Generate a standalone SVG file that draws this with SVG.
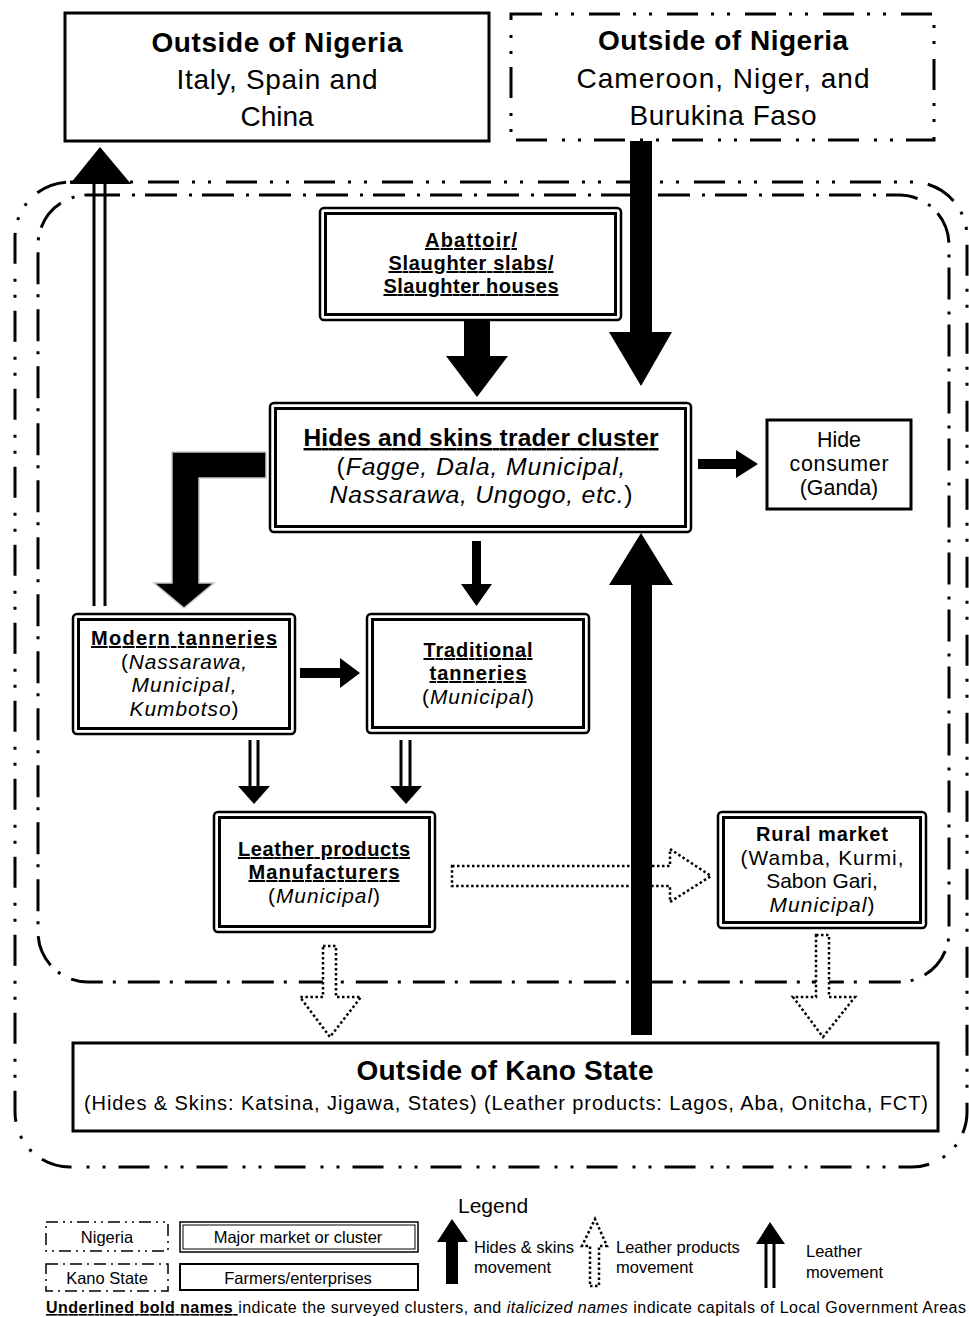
<svg xmlns="http://www.w3.org/2000/svg" width="969" height="1317" viewBox="0 0 969 1317">
<style>
 text{font-family:"Liberation Sans",Arial,sans-serif;fill:#000}
 .c{text-anchor:middle}
 .b{font-weight:700}
 .i{font-style:italic}
 .u{text-decoration:underline}
 .box{fill:#fff;stroke:#000;stroke-width:3}
 .ob{fill:#fff;stroke:#000;stroke-width:2.5}
 .ib{fill:none;stroke:#000;stroke-width:3}
 .nig{fill:none;stroke:#000;stroke-width:3;stroke-dasharray:31 13 3 13 3 15}
 .kano{fill:none;stroke:#000;stroke-width:3;stroke-dasharray:32 12 3 10}
 .solid{fill:#000}
 .dot{fill:#fff;stroke:#000;stroke-width:2.5;stroke-dasharray:2.5 2.5}
 .dl{stroke:#000;stroke-width:3;fill:none}
 .t28{font-size:28px}
 .lb{font-weight:700;font-size:20px;text-decoration:underline}
 .r21{font-size:20.9px}
 .lg{font-size:16.5px}
</style>
<rect width="969" height="1317" fill="#fff"/>
<g id="boundaries">
 <rect class="nig" x="15" y="182" width="952" height="985" rx="55"/>
 <rect class="kano" x="38" y="195" width="911" height="787" rx="50"/>
</g>
<g id="outside-nigeria-left">
 <rect class="box" x="65" y="13" width="424" height="128"/>
 <text class="c t28" x="277" y="52"><tspan class="b" textLength="251">Outside of Nigeria</tspan><tspan x="277" y="89" textLength="201">Italy, Spain and</tspan><tspan x="277" y="126">China</tspan></text>
</g>
<g id="outside-nigeria-right">
 <rect class="nig" x="511" y="14" width="423" height="126" fill="#fff"/>
 <text class="c t28" x="723" y="50"><tspan class="b" textLength="250">Outside of Nigeria</tspan><tspan x="723" y="88" textLength="293">Cameroon, Niger, and</tspan><tspan x="723" y="125" textLength="187">Burukina Faso</tspan></text>
</g>
<g id="abattoir">
 <rect class="ob" x="320" y="208" width="301" height="112" rx="4"/>
 <rect class="ib" x="325.5" y="213.5" width="290" height="101"/>
 <text class="c lb" x="471" y="247"><tspan textLength="92">Abattoir/</tspan><tspan x="471" y="270" textLength="165">Slaughter slabs/</tspan><tspan x="471" y="293" textLength="175">Slaughter houses</tspan></text>
</g>
<g id="hides-trader">
 <rect class="ob" x="270" y="403" width="421" height="129" rx="4"/>
 <rect class="ib" x="275.5" y="408.5" width="410" height="118"/>
 <text class="c" x="481" y="446"><tspan class="b u" font-size="24.5" textLength="355">Hides and skins trader cluster</tspan><tspan font-size="24.8" x="481" y="475" textLength="289">(<tspan class="i">Fagge, Dala, Municipal,</tspan></tspan><tspan font-size="24.8" x="481" y="503" textLength="303"><tspan class="i">Nassarawa, Ungogo, etc.</tspan>)</tspan></text>
</g>
<g id="hide-consumer">
 <rect class="box" x="767" y="420" width="144" height="89"/>
 <text class="c" font-size="21.4" x="839" y="447">Hide<tspan x="839" y="471" textLength="99">consumer</tspan><tspan x="839" y="495">(Ganda)</tspan></text>
</g>
<g id="modern-tanneries">
 <rect class="ob" x="73" y="614" width="222" height="120" rx="4"/>
 <rect class="ib" x="78.5" y="619.5" width="211" height="109"/>
 <text class="c" x="184" y="645"><tspan class="lb" textLength="186">Modern tanneries</tspan><tspan class="r21" x="184" y="668.5" textLength="126">(<tspan class="i">Nassarawa,</tspan></tspan><tspan class="r21 i" x="184" y="692" textLength="105">Municipal,</tspan><tspan class="r21" x="184" y="715.5" textLength="109"><tspan class="i">Kumbotso</tspan>)</tspan></text>
</g>
<g id="traditional-tanneries">
 <rect class="ob" x="367" y="614" width="222" height="119" rx="4"/>
 <rect class="ib" x="372.5" y="619.5" width="211" height="108"/>
 <text class="c" x="478" y="657"><tspan class="lb" textLength="109">Traditional</tspan><tspan class="lb" x="478" y="680" textLength="97">tanneries</tspan><tspan class="r21" x="478" y="703.5" textLength="112">(<tspan class="i">Municipal</tspan>)</tspan></text>
</g>
<g id="leather-products">
 <rect class="ob" x="214" y="812" width="221" height="120" rx="4"/>
 <rect class="ib" x="219.5" y="817.5" width="210" height="109"/>
 <text class="c" x="324" y="856"><tspan class="lb" textLength="172">Leather products</tspan><tspan class="lb" x="324" y="879" textLength="151">Manufacturers</tspan><tspan class="r21" x="324" y="902.5" textLength="112">(<tspan class="i">Municipal</tspan>)</tspan></text>
</g>
<g id="rural-market">
 <rect class="ob" x="718" y="812" width="208" height="116" rx="4"/>
 <rect class="ib" x="723.5" y="817.5" width="197" height="105"/>
 <text class="c" x="822" y="841"><tspan class="b" font-size="20" textLength="132">Rural market</tspan><tspan class="r21" x="822" y="864.5" textLength="163">(Wamba, Kurmi,</tspan><tspan class="r21" x="822" y="888">Sabon Gari,</tspan><tspan class="r21" x="822" y="911.5" textLength="105"><tspan class="i">Municipal</tspan>)</tspan></text>
</g>
<g id="outside-kano">
 <rect class="box" x="73" y="1043" width="865" height="88"/>
 <text class="c" x="505" y="1080"><tspan class="b" font-size="28" textLength="297">Outside of Kano State</tspan><tspan font-size="20" x="506" y="1110" textLength="844">(Hides &amp; Skins: Katsina, Jigawa, States) (Leather products: Lagos, Aba, Onitcha, FCT)</tspan></text>
</g>
<g id="connectors">
 <line class="dl" x1="94" y1="606" x2="94" y2="180" stroke-width="5"/>
 <line class="dl" x1="105" y1="606" x2="105" y2="180" stroke-width="5"/>
 <polygon class="solid" points="70,184 100,147 131,184"/>
 <polygon class="solid" points="630,141 652,141 652,332 672,332 641,386 609,332 630,332"/>
 <polygon class="solid" points="464,320 490,320 490,356 508,356 477,397 446,356 464,356"/>
 <polygon class="solid" points="698,459 736,459 736,450 758,464 736,478 736,469 698,469"/>
 <path class="solid" stroke="#c8c8c8" stroke-width="1.5" d="M266,452 L172,452 L172,583 L154,583 L184,608 L214,583 L199,583 L199,478 L266,478 Z"/>
 <polygon class="solid" points="472,541 481,541 481,584 492,584 476.5,606 461,584 472,584"/>
 <polygon class="solid" points="300,668 340,668 340,658 360,673 340,688 340,678 300,678"/>
 <line class="dl" x1="250" y1="740" x2="250" y2="790"/>
 <line class="dl" x1="258" y1="740" x2="258" y2="790"/>
 <polygon class="solid" points="238,786 270,786 254,804"/>
 <line class="dl" x1="401" y1="740" x2="401" y2="790"/>
 <line class="dl" x1="410" y1="740" x2="410" y2="790"/>
 <polygon class="solid" points="390,786 422,786 406,804"/>
 <polygon class="dot" points="452,866 670,866 670,849 711,876 670,902 670,886 452,886"/>
 <polygon class="solid" points="631,1035 652,1035 652,585 673,585 641,533 609,585 631,585"/>
 <polygon class="dot" points="323,946 336,946 336,997 361,997 330,1037 300,997 323,997"/>
 <polygon class="dot" points="816,935 829,935 829,997 855,997 823,1037 793,997 816,997"/>
</g>
<g id="legend">
 <text font-size="21" x="458" y="1213">Legend</text>
 <g id="legend-nigeria">
  <rect x="46" y="1222" width="122" height="29" fill="none" stroke="#000" stroke-width="1.5" stroke-dasharray="12 5 2 5 2 5"/>
  <text class="c lg" x="107" y="1243">Nigeria</text>
 </g>
 <g id="legend-kano">
  <rect x="46" y="1264" width="122" height="27" fill="none" stroke="#000" stroke-width="1.5" stroke-dasharray="12 5 2 5"/>
  <text class="c lg" x="107" y="1284">Kano State</text>
 </g>
 <g id="legend-major">
  <rect x="180" y="1222" width="238" height="30" fill="none" stroke="#000" stroke-width="1.5"/>
  <rect x="183" y="1225" width="232" height="24" fill="none" stroke="#000" stroke-width="1"/>
  <text class="c lg" x="298" y="1243">Major market or cluster</text>
 </g>
 <g id="legend-farmers">
  <rect x="180" y="1264" width="238" height="26" fill="none" stroke="#000" stroke-width="2"/>
  <text class="c lg" x="298" y="1284">Farmers/enterprises</text>
 </g>
 <g id="legend-hides">
  <polygon class="solid" points="446,1284 458,1284 458,1242 468,1242 452,1219 437,1242 446,1242"/>
  <text class="lg" x="474" y="1253">Hides &amp; skins<tspan x="474" y="1273">movement</tspan></text>
 </g>
 <g id="legend-leather-products">
  <polygon class="dot" stroke-width="2" stroke-dasharray="2 2" points="590,1286 599,1286 599,1246 607,1246 595,1219 582,1246 590,1246"/>
  <text class="lg" x="616" y="1253">Leather products<tspan x="616" y="1273">movement</tspan></text>
 </g>
 <g id="legend-leather">
  <line class="dl" x1="766" y1="1240" x2="766" y2="1288"/>
  <line class="dl" x1="774" y1="1240" x2="774" y2="1288"/>
  <polygon class="solid" points="756,1244 770,1222 785,1244"/>
  <text class="lg" x="806" y="1257">Leather<tspan x="806" y="1278">movement</tspan></text>
 </g>
 <text font-size="16" x="46" y="1313" textLength="920"><tspan class="b u">Underlined bold names </tspan>indicate the surveyed clusters, and <tspan class="i">italicized names</tspan> indicate capitals of Local Government Areas</text>
</g>
</svg>
